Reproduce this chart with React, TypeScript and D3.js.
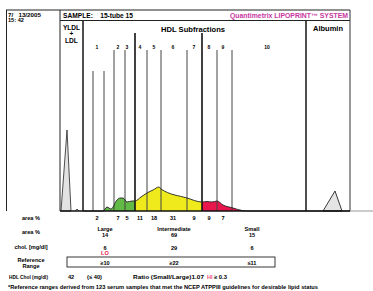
import React from 'react';
import * as d3 from 'd3';

// ---- data (x = migration distance units, y = absorbance units) ----
const hdlProfileX = [23, 43, 47, 51, 57, 60, 63, 67, 72, 75, 81, 87, 93, 99, 101, 127, 142, 147, 152, 157, 163, 173, 182, 188, 290];
const hdlProfileY = [0, 0, 4, 2, 11, 13, 13, 9, 10, 10, 14, 18, 21, 24, 22, 13, 9, 9.5, 9, 10, 6, 3, 0.5, 0, 0];
const yldlPeakX = [1, 7, 11];
const yldlPeakY = [0, 81, 0];
const ldlBumpX = [15, 17, 19];
const ldlBumpY = [0, 2, 0];
const albuminX = [263, 275, 282];
const albuminY = [0, 20, 0];

const boundaryX = [33, 44, 54, 65, 75, 87, 101, 127, 142, 157, 172];
const boundaryTop = [140, 140, 161, 161, 178, 161, 161, 161, 178, 161, 161];
const majorBoundary = [false, false, false, false, true, false, false, false, true, false, false];

const subfractionLabels = ['1', '2', '3', '4', '5', '6', '7', '8', '9', '10'];
const subfractionLabelX = [37, 58, 67, 80, 94, 113, 134, 149, 163, 207];
const areaPercents = ['2', '7', '5', '11', '18', '31', '9', '9', '7'];

const groupNames = ['Large', 'Intermediate', 'Small'];
const groupCenterX = [45, 114, 192];
const groupArea = ['14', '69', '15'];
const groupChol = ['6', '29', '6'];
const groupFlag = ['LO', '', ''];
const groupRef = ['≥10', '≥22', '≤11'];

const bandStart = [43, 75, 142];
const bandEnd = [75, 142, 186];
const bandColors = ['#62b946', '#eeea1c', '#e8164c'];

const FONT = '"Liberation Sans", Arial, Helvetica, sans-serif';

export default function App() {
  const x = d3.scaleLinear().domain([0, 290]).range([60, 350]);
  const y = d3.scaleLinear().domain([0, 191]).range([211, 20]);

  const pts = (xs: number[], ys: number[]) => xs.map((v, i) => [v, ys[i]] as [number, number]);
  const hdl = pts(hdlProfileX, hdlProfileY);
  const area = d3.area<[number, number]>().x(d => x(d[0])).y0(y(0)).y1(d => y(d[1])).curve(d3.curveMonotoneX);
  const line = d3.line<[number, number]>().x(d => x(d[0])).y(d => y(d[1])).curve(d3.curveMonotoneX);
  const lineLin = d3.line<[number, number]>().x(d => x(d[0])).y(d => y(d[1]));
  const areaLin = d3.area<[number, number]>().x(d => x(d[0])).y0(y(0)).y1(d => y(d[1]));

  const t = (props: any, s: string) => (
    <text fontFamily={FONT} fontWeight="bold" xmlSpace="preserve" style={{ whiteSpace: 'pre' }}
      lengthAdjust={props.textLength ? 'spacingAndGlyphs' : undefined} {...props}>{s}</text>
  );
  const FS = 5.6;

  return (
    <svg width={373} height={291} style={{ position: 'absolute', left: 0, top: 0, background: '#fff' }}>
      <defs>
        {bandStart.map((b, i) => (
          <clipPath id={'band' + i} key={i}>
            <rect x={x(b)} y={0} width={x(bandEnd[i]) - x(b)} height={212} />
          </clipPath>
        ))}
      </defs>
      {/* frame */}
      <line x1={6} y1={10} x2={350} y2={10} stroke="#222" strokeWidth={1} />
      <line x1={6.5} y1={10} x2={6.5} y2={211} stroke="#222" strokeWidth={1} />
      <line x1={60} y1={20.5} x2={350} y2={20.5} stroke="#222" strokeWidth={1} />
      <line x1={60} y1={10} x2={60} y2={211} stroke="#222" strokeWidth={1} />
      <line x1={x(23)} y1={20} x2={x(23)} y2={211} stroke="#222" strokeWidth={1.6} />
      <line x1={x(246)} y1={20} x2={x(246)} y2={211} stroke="#222" strokeWidth={1.6} />
      <line x1={350} y1={10} x2={350} y2={211} stroke="#333" strokeWidth={1} />

      {/* colored fills */}
      {bandStart.map((b, i) => (
        <path key={i} d={area(hdl) || ''} fill={bandColors[i]} clipPath={`url(#band${i})`} />
      ))}
      <path d={areaLin(pts(yldlPeakX, yldlPeakY)) || ''} fill="#e2e2e2" stroke="#222" strokeWidth={0.8} />
      <path d={lineLin(pts(ldlBumpX, ldlBumpY)) || ''} fill="none" stroke="#222" strokeWidth={0.8} />
      <path d={areaLin(pts(albuminX, albuminY)) || ''} fill="#e4e4e4" stroke="#222" strokeWidth={0.9} />

      {/* subfraction boundaries */}
      {boundaryX.map((b, i) => (
        <line key={i} x1={x(b)} x2={x(b)} y1={y(boundaryTop[i])} y2={211}
          stroke={majorBoundary[i] ? '#111' : '#444'} strokeWidth={majorBoundary[i] ? 1.6 : 1} />
      ))}
      <path d={line(hdl) || ''} fill="none" stroke="#222" strokeWidth={0.9} />

      {/* baseline */}
      <line x1={60} y1={211} x2={350} y2={211} stroke="#111" strokeWidth={1.6} />
      <line x1={350} y1={211} x2={373} y2={211} stroke="#999" strokeWidth={1} />

      {/* header */}
      {t({ x: 8, y: 17, fontSize: 5.6, textLength: 33 }, '7/   13/2005')}
      {t({ x: 8, y: 22, fontSize: 5.6 }, '15: 42')}
      {t({ x: 63, y: 17.8, fontSize: 6.8, textLength: 70 }, 'SAMPLE:    15-tube 15')}
      {t({ x: 230, y: 17.6, fontSize: 6.4, textLength: 118, fill: '#c8379f' }, 'Quantimetrix LIPOPRINT™ SYSTEM')}
      {t({ x: 71.5, y: 30, fontSize: 6.6, textAnchor: 'middle' }, 'YLDL')}
      {t({ x: 71.5, y: 35.5, fontSize: 6.6, textAnchor: 'middle' }, '+')}
      {t({ x: 71.5, y: 42.5, fontSize: 6.6, textAnchor: 'middle' }, 'LDL')}
      {t({ x: 161, y: 31.5, fontSize: 7, textLength: 64 }, 'HDL Subfractions')}
      {t({ x: 313, y: 30.5, fontSize: 6.5, textLength: 30 }, 'Albumin')}
      {subfractionLabels.map((s, i) => (
        <text key={i} x={x(subfractionLabelX[i])} y={49} fontSize={5} fontFamily={FONT} fontWeight="bold" textAnchor="middle">{s}</text>
      ))}

      {/* table */}
      {t({ x: 31, y: 220, fontSize: FS, textAnchor: 'middle' }, 'area %')}
      {areaPercents.map((s, i) => (
        <text key={i} x={x(subfractionLabelX[i])} y={220} fontSize={FS} fontFamily={FONT} fontWeight="bold" textAnchor="middle">{s}</text>
      ))}
      {t({ x: 31, y: 234, fontSize: FS, textAnchor: 'middle' }, 'area %')}
      {t({ x: 31, y: 249, fontSize: FS, textAnchor: 'middle' }, 'chol. [mg/dl]')}
      {t({ x: 31, y: 262, fontSize: FS, textAnchor: 'middle' }, 'Reference')}
      {t({ x: 31, y: 267.5, fontSize: FS, textAnchor: 'middle' }, 'Range')}
      <rect x={67} y={257} width={208} height={10} fill="none" stroke="#222" strokeWidth={0.9} />
      {groupNames.map((g, i) => (
        <g key={i} fontFamily={FONT} fontWeight="bold" fontSize={FS} textAnchor="middle">
          <text x={x(groupCenterX[i])} y={231}>{g}</text>
          <text x={x(groupCenterX[i])} y={237}>{groupArea[i]}</text>
          <text x={x(groupCenterX[i])} y={249.5}>{groupChol[i]}</text>
          {groupFlag[i] && <text x={x(groupCenterX[i])} y={255} fill="#e8164c">{groupFlag[i]}</text>}
          <text x={x(groupCenterX[i])} y={264.5}>{groupRef[i]}</text>
        </g>
      ))}
      {t({ x: 9, y: 279, fontSize: FS, textLength: 39 }, 'HDL Chol (mg/dl)')}
      {t({ x: 68, y: 279, fontSize: FS }, '42')}
      {t({ x: 87, y: 279, fontSize: FS, textLength: 15 }, '(≤ 40)')}
      {t({ x: 133, y: 279, fontSize: FS, textLength: 71 }, 'Ratio (Small/Large)1.07')}
      {t({ x: 207, y: 279, fontSize: FS, fill: '#f0507a' }, 'HI')}
      {t({ x: 214, y: 279, fontSize: FS, textLength: 13 }, '≥ 0.3')}
      {t({ x: 8, y: 289, fontSize: 5.4, textLength: 310 }, '*Reference ranges derived from 123 serum samples that met the NCEP ATPPIII guidelines for desirable lipid status')}
    </svg>
  );
}
